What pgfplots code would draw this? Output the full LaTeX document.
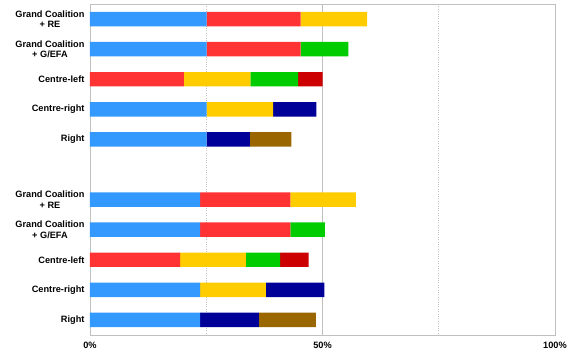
\documentclass[border=0pt]{standalone}
\usepackage{pgfplots}
\pgfplotsset{compat=1.18}
\usepackage{pgfplotstable}
\usepackage{fontspec}
\setmainfont{Liberation Sans}
\definecolor{cblue}{HTML}{3399FF}
\definecolor{cred}{HTML}{FF3333}
\definecolor{cyellow}{HTML}{FFCC00}
\definecolor{cgreen}{HTML}{00CC00}
\definecolor{cdred}{HTML}{CC0000}
\definecolor{cnavy}{HTML}{000099}
\definecolor{cbrown}{HTML}{996600}
\definecolor{gridc}{HTML}{C0C0C0}
\pgfplotstableread{
y blue red yellow green dred navy brown
0 25.1 20.2 14.3 0 0 0 0
1 25.1 20.2 0 10.25 0 0 0
2 0 20.2 14.3 10.25 5.3 0 0
3 25.1 0 14.3 0 0 9.3 0
4 25.1 0 0 0 0 9.3 8.9
6 23.7 19.4 14.1 0 0 0 0
7 23.7 19.4 0 7.4 0 0 0
8 0 19.4 14.1 7.4 6.1 0 0
9 23.7 0 14.1 0 0 12.6 0
10 23.7 0 0 0 0 12.6 12.3
}\datatable
\begin{document}
\begin{tikzpicture}[x=1pt,y=1pt]
\begin{axis}[
  scale only axis,
  width=465pt, height=331pt,
  xbar stacked,
  bar width=0.48,
  xmin=0, xmax=100,
  ymin=-0.5, ymax=10.5,
  y dir=reverse,
  ytick={0,1,2,3,4,6,7,8,9,10},
  yticklabels={{Grand Coalition\\+ RE},{Grand Coalition\\+ G/EFA},Centre-left,Centre-right,Right,{Grand Coalition\\+ RE},{Grand Coalition\\+ G/EFA},Centre-left,Centre-right,Right},
  yticklabel style={align=center, font=\fontsize{9.2}{10.6}\selectfont\bfseries},
  y tick label style={xshift=-2pt},
  xtick={0,50,100},
  xticklabels={0\%,50\%,100\%},
  xticklabel style={font=\fontsize{9.2}{10.3}\selectfont\bfseries, yshift=-3.5pt},
  minor xtick={25,75},
  xmajorgrids, xminorgrids,
  major grid style={gridc, line width=0.8pt},
  minor grid style={gridc, dotted, line width=0.8pt},
  axis line style={gridc, line width=0.8pt},
  major tick length=0pt, minor tick length=0pt,
  every axis plot/.append style={draw=none},
]
\addplot[fill=cblue] table[x=blue,y=y] {\datatable};
\addplot[fill=cred] table[x=red,y=y] {\datatable};
\addplot[fill=cyellow] table[x=yellow,y=y] {\datatable};
\addplot[fill=cgreen] table[x=green,y=y] {\datatable};
\addplot[fill=cdred] table[x=dred,y=y] {\datatable};
\addplot[fill=cnavy] table[x=navy,y=y] {\datatable};
\addplot[fill=cbrown] table[x=brown,y=y] {\datatable};
\end{axis}
\path (current axis.south west) ++(-90pt,-16pt) coordinate (bl);
\path (current axis.north east) ++(28pt,4pt) coordinate (tr);
\useasboundingbox (bl) rectangle (tr);
\end{tikzpicture}
\end{document}
